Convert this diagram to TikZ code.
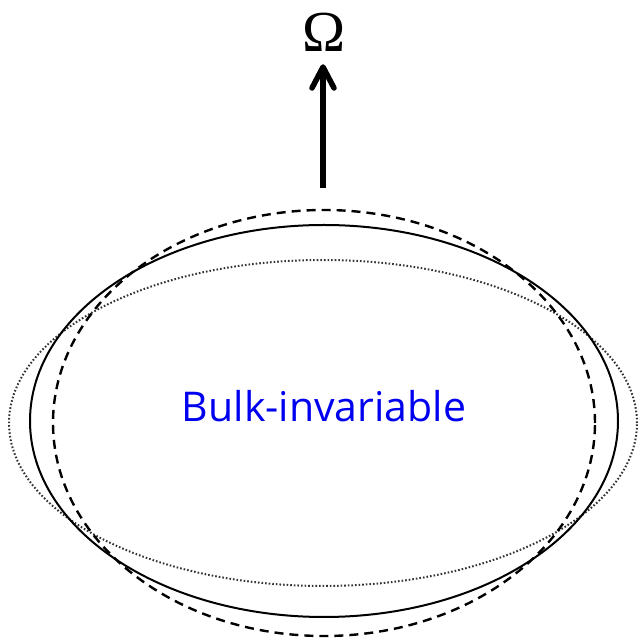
\documentclass[tikz,border=0pt]{standalone}
\usepackage{fontspec}
\newfontfamily\labelfont{Open Sans}
\newfontfamily\symfont{Liberation Serif}
\definecolor{labelblue}{RGB}{0,0,240}
\tikzset{
  solidring/.style={line width=2pt, black},
  dashring/.style={line width=2.4pt, black, dash pattern=on 9pt off 6pt},
  dotring/.style={line width=2pt, black!80, dash pattern=on 1.6pt off 2pt},
  shaft/.style={line width=6pt},
  barb/.style={line width=5.5pt, line cap=round, line join=round}
}
\begin{document}
\begin{tikzpicture}[x=1pt,y=1pt]
\useasboundingbox (0,0) rectangle (639,643);
\draw[dotring] (323,220) ellipse [x radius=314, y radius=163];
\draw[solidring] (324,222) ellipse [x radius=294, y radius=196];
\draw[dashring] (324,220) ellipse [x radius=271, y radius=213];
\node[text=labelblue, font=\labelfont\fontsize{41}{48}\selectfont, anchor=base, inner sep=0pt] (bulk) at (324,221) {Bulk-invariable};
\node[font=\symfont\fontsize{58}{64}\selectfont, anchor=base, inner sep=0pt] (omega) at (324,591) {Ω};
\coordinate (axisbase) at (323,455);
\coordinate (axistip) at (323,576);
\draw[shaft] (axisbase) -- ([yshift=-4pt]axistip);
\draw[barb] ([shift={(-11,-21)}]axistip) -- (axistip) -- ([shift={(11,-21)}]axistip);
\end{tikzpicture}
\end{document}
